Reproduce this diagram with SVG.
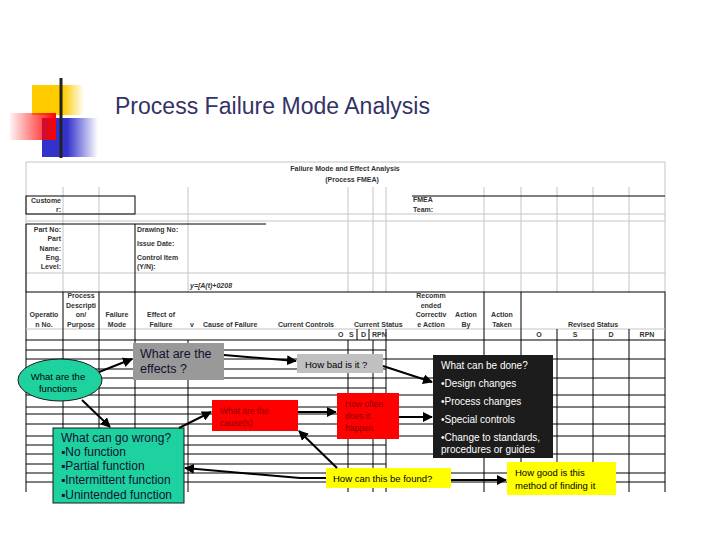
<svg xmlns="http://www.w3.org/2000/svg" width="720" height="540" viewBox="0 0 720 540">
<defs>
<linearGradient id="gy" x1="0" x2="1" y1="0" y2="0"><stop offset="0" stop-color="#FFCC00"/><stop offset="0.6" stop-color="#FFCC00"/><stop offset="1" stop-color="#FFCC00" stop-opacity="0"/></linearGradient>
<linearGradient id="gr" x1="0" x2="1" y1="0" y2="0"><stop offset="0" stop-color="#FF0000" stop-opacity="0.05"/><stop offset="1" stop-color="#FF0000"/></linearGradient>
<linearGradient id="gb" x1="0" x2="1" y1="0" y2="0"><stop offset="0" stop-color="#3333CC"/><stop offset="0.45" stop-color="#3333CC"/><stop offset="1" stop-color="#3333CC" stop-opacity="0"/></linearGradient>
<linearGradient id="gl" x1="0" x2="1" y1="0" y2="0"><stop offset="0" stop-color="#222222"/><stop offset="0.5" stop-color="#777777"/><stop offset="1" stop-color="#dddddd"/></linearGradient>
<marker id="ah" viewBox="0 0 10 10" refX="9" refY="5" markerWidth="5" markerHeight="5" orient="auto" markerUnits="strokeWidth"><path d="M0,0 L10,5 L0,10 z" fill="#000"/></marker>
</defs>
<style>
.t{font-family:"Liberation Sans",Arial,sans-serif}
.s{font-family:"Liberation Sans",Arial,sans-serif;font-size:7px;font-weight:bold;fill:#333}
.g{stroke:#c4c4c4;stroke-width:1;fill:none}
.k{stroke:#000;stroke-width:1;fill:none}
.a{stroke:#000;stroke-width:2;fill:none;marker-end:url(#ah)}
.m{text-anchor:middle}
.e{text-anchor:end}
</style>
<rect width="720" height="540" fill="#fff"/>
<!-- decoration -->
<g id="decor">
<rect x="32" y="85" width="52" height="30" fill="url(#gy)"/>
<rect x="42" y="118" width="56" height="39" fill="url(#gb)"/>
<rect x="10" y="113" width="46" height="27" fill="url(#gr)"/>
<line x1="61" y1="78" x2="61" y2="158" stroke="#222" stroke-width="3"/>
<line x1="33" y1="141" x2="460" y2="141" stroke="url(#gl)" stroke-width="3"/>
<text class="t" x="115" y="114" font-size="23" fill="#333366" textLength="315">Process Failure Mode Analysis</text>
</g>
<!-- FMEA form, top part -->
<g id="form-top">
<line class="g" x1="26" y1="162" x2="665" y2="162"/>
<line class="g" x1="26" y1="162" x2="26" y2="292"/>
<line class="g" x1="665" y1="162" x2="665" y2="292"/>
<path class="g" d="M63 187V292M99 187V292M188 187V292M348 187V292M373 187V292M386 187V292M484 187V292M521 187V292M557 187V292M593 187V292M629 187V292"/>
<path class="g" d="M26 214H665M26 221H665M26 273H665"/>
<rect class="k" x="26" y="196" width="109" height="18"/>
<path class="k" d="M26 224H266M26 224V292M135 224V292M412 196H665"/>
<text class="s m" x="345" y="171" font-size="8">Failure Mode and Effect Analysis</text>
<text class="s m" x="352" y="182" font-size="8">(Process FMEA)</text>
<text class="s e" x="61" y="203">Custome</text>
<text class="s e" x="61" y="212">r:</text>
<text class="s e" x="61" y="232">Part No:</text>
<text class="s e" x="61" y="241">Part</text>
<text class="s e" x="61" y="251">Name:</text>
<text class="s e" x="61" y="260">Eng.</text>
<text class="s e" x="61" y="269">Level:</text>
<text class="s" x="137" y="232">Drawing No:</text>
<text class="s" x="137" y="246">Issue Date:</text>
<text class="s" x="137" y="260">Control Item</text>
<text class="s" x="137" y="269">(Y/N):</text>
<text class="s" x="413" y="202">FMEA</text>
<text class="s" x="413" y="212">Team:</text>
<text class="s" x="190" y="288" font-size="6" font-style="italic">y=[A(t)+0208</text>
</g>
<!-- header row -->
<g id="form-header">
<rect class="k" x="26" y="292" width="639" height="48"/>
<line class="g" x1="26" y1="329" x2="665" y2="329"/>
<path class="k" d="M63 292V340M99 292V340M135 292V340M484 292V340M521 292V340M557 329V340M593 329V340M629 329V340M357 329V340M369 329V340M386 329V340"/>
<text class="s m" x="44" y="317">Operatio</text>
<text class="s m" x="44" y="327">n No.</text>
<text class="s m" x="81" y="298">Process</text>
<text class="s m" x="81" y="308">Descripti</text>
<text class="s m" x="81" y="317">on/</text>
<text class="s m" x="81" y="327">Purpose</text>
<text class="s m" x="117" y="317">Failure</text>
<text class="s m" x="117" y="327">Mode</text>
<text class="s m" x="161" y="317">Effect of</text>
<text class="s m" x="161" y="327">Failure</text>
<text class="s" x="190" y="327">v</text>
<text class="s" x="203" y="327">Cause of Failure</text>
<text class="s" x="278" y="327">Current Controls</text>
<text class="s" x="354" y="327">Current Status</text>
<text class="s m" x="431" y="298">Recomm</text>
<text class="s m" x="431" y="308">ended</text>
<text class="s m" x="431" y="317">Correctiv</text>
<text class="s m" x="431" y="327">e Action</text>
<text class="s m" x="466" y="317">Action</text>
<text class="s m" x="466" y="327">By</text>
<text class="s m" x="502" y="317">Action</text>
<text class="s m" x="502" y="327">Taken</text>
<text class="s m" x="593" y="327">Revised Status</text>
<text class="s" x="338" y="337">O</text>
<text class="s" x="349" y="337">S</text>
<text class="s" x="361" y="337">D</text>
<text class="s" x="372" y="337">RPN</text>
<text class="s m" x="539" y="337">O</text>
<text class="s m" x="575" y="337">S</text>
<text class="s m" x="611" y="337">D</text>
<text class="s m" x="647" y="337">RPN</text>
</g>
<!-- lower grid -->
<g id="form-grid">
<path class="k" d="M26 340V492M63 340V492M99 340V492M135 340V492M188 340V492M348 340V492M373 340V492M386 340V492M484 340V492M521 340V492M557 340V492M593 340V492M629 340V492M665 340V492"/>
<path class="k" d="M26 359H665M26 378H665M26 395H665M26 407H665M26 424H665M26 436H665M26 454H665M26 473H665M26 482H665"/>
<path class="k" d="M26 350H386M26 369H386M26 388H386M26 414H386M26 445H386M26 464H386"/>
</g>
<!-- nodes -->
<g id="functions">
<ellipse cx="60" cy="380" rx="42" ry="21" fill="#1ED2A0" stroke="#1a1a1a" stroke-width="1"/>
<text class="t m" x="58" y="380" font-size="9.5">What are the</text>
<text class="t m" x="58" y="392" font-size="9.5">functions</text>
</g>
<g id="effects">
<rect x="133" y="343" width="91" height="37" fill="#999999"/>
<text class="t" x="140" y="358" font-size="12.5" fill="#111133">What are the</text>
<text class="t" x="140" y="373" font-size="12.5" fill="#111133">effects ?</text>
</g>
<g id="howbad">
<rect x="297" y="354" width="86" height="19" fill="#C0C0C0"/>
<text class="t" x="305" y="368" font-size="9.5">How bad is it ?</text>
</g>
<g id="done">
<rect x="433" y="355" width="120" height="103" fill="#1C1C1C"/>
<g class="t" font-size="10" fill="#fff">
<text x="441" y="369">What can be done?</text>
<text x="441" y="387">•Design changes</text>
<text x="441" y="405">•Process changes</text>
<text x="441" y="423">•Special controls</text>
<text x="441" y="441">•Change to standards,</text>
<text x="441" y="453">procedures or guides</text>
</g>
</g>
<g id="cause">
<rect x="212" y="400" width="86" height="31" fill="#FF0000"/>
<text class="t" x="220" y="414" font-size="8.5" fill="#8B0000">What are the</text>
<text class="t" x="220" y="426" font-size="8.5" fill="#8B0000">cause(s)</text>
</g>
<g id="often">
<rect x="337" y="393" width="62" height="46" fill="#FF0000"/>
<text class="t" x="345" y="407" font-size="8.5" fill="#8B0000">How often</text>
<text class="t" x="345" y="419" font-size="8.5" fill="#8B0000">does it</text>
<text class="t" x="345" y="431" font-size="8.5" fill="#8B0000">happen</text>
</g>
<g id="wrong">
<rect x="53" y="428" width="131" height="75" fill="#1ED2A0" stroke="#1a1a1a" stroke-width="1"/>
<g class="t" font-size="12" fill="#111133">
<text x="61" y="442">What can go wrong?</text>
<text x="61" y="456">▪No function</text>
<text x="61" y="470">▪Partial function</text>
<text x="61" y="484">▪Intermittent function</text>
<text x="61" y="499">▪Unintended function</text>
</g>
</g>
<g id="found">
<rect x="326" y="468" width="125" height="20" fill="#FFFF00"/>
<text class="t" x="333" y="482" font-size="9.5">How can this be found?</text>
</g>
<g id="good">
<rect x="507" y="462" width="109" height="33" fill="#FFFF00"/>
<text class="t" x="515" y="476" font-size="9.5">How good is this</text>
<text class="t" x="515" y="489" font-size="9.5">method of finding it</text>
</g>
<!-- connectors -->
<g id="connectors">
<line class="a" x1="99" y1="372" x2="132" y2="359"/>
<line class="a" x1="224" y1="355" x2="296" y2="361"/>
<line class="a" x1="82" y1="400" x2="110" y2="427"/>
<line class="a" x1="179" y1="428" x2="211" y2="412"/>
<line class="a" x1="298" y1="412" x2="336" y2="412"/>
<line class="a" x1="337" y1="468" x2="299" y2="431"/>
<path class="a" d="M326 478 L300 478 L185 468"/>
<line class="a" x1="383" y1="366" x2="432" y2="382"/>
<line class="a" x1="399" y1="417" x2="432" y2="417"/>
<line class="a" x1="451" y1="480" x2="506" y2="480"/>
</g>
</svg>
